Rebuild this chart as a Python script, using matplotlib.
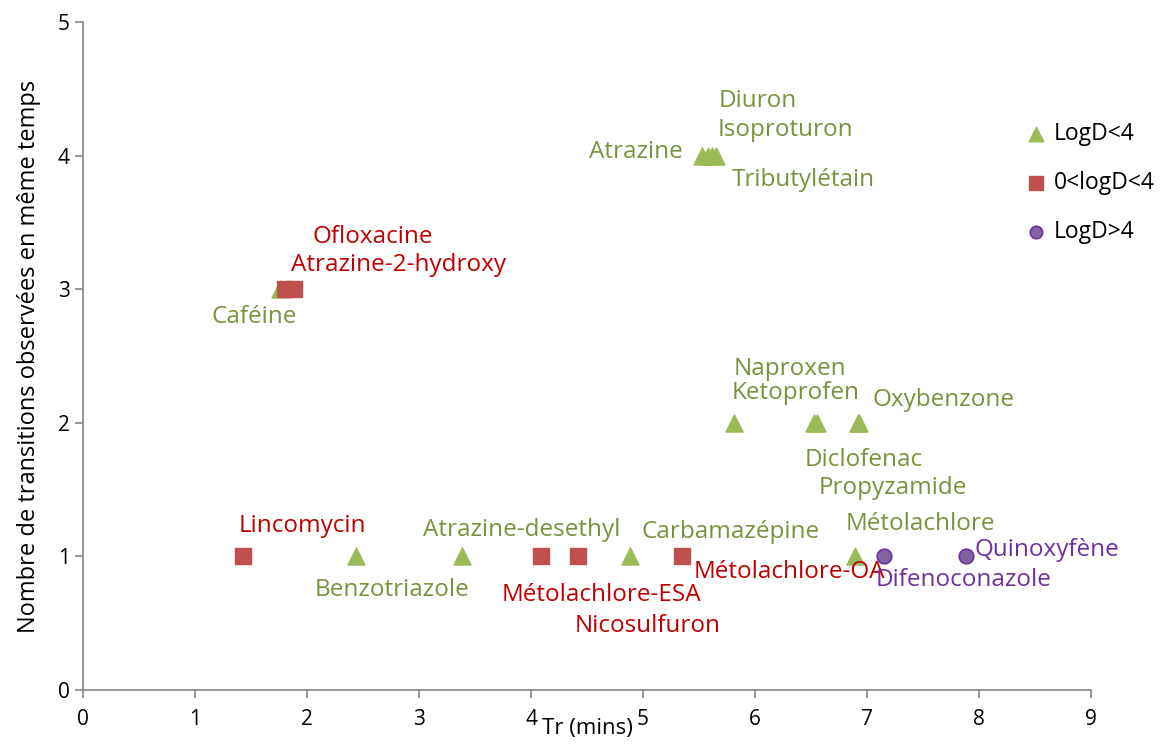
import numpy as np
import matplotlib.pyplot as plt

plt.rcParams['font.family'] = ['Open Sans', 'DejaVu Sans']

# LogD<4 (triangles)
g_names = ['Caféine', 'Atrazine', 'Diuron', 'Isoproturon', 'Tributylétain',
           'Naproxen', 'Ketoprofen', 'Diclofenac', 'Oxybenzone', 'Propyzamide',
           'Benzotriazole', 'Atrazine-desethyl', 'Carbamazépine', 'Métolachlore']
g_tr = [1.76, 5.53, 5.58, 5.62, 5.65, 5.81, 6.53, 6.55, 6.93, 6.92, 2.44, 3.38, 4.88, 6.89]
g_n = [3, 4, 4, 4, 4, 2, 2, 2, 2, 2, 1, 1, 1, 1]
g_lx = [1.53, 4.94, 6.02, 6.27, 6.43, 6.31, 6.36, 6.97, 7.68, 7.23, 2.76, 3.92, 5.78, 7.48]
g_ly = [2.79, 4.03, 4.41, 4.19, 3.82, 2.40, 2.22, 1.72, 2.17, 1.51, 0.75, 1.20, 1.18, 1.24]

# 0<logD<4 (squares)
r_names = ['Lincomycin', 'Ofloxacine', 'Atrazine-2-hydroxy', 'Métolachlore-ESA',
           'Nicosulfuron', 'Métolachlore-OA']
r_tr = [1.43, 1.80, 1.88, 4.09, 4.42, 5.35]
r_n = [1, 3, 3, 1, 1, 1]
r_lx = [1.96, 2.59, 2.82, 4.63, 5.04, 6.31]
r_ly = [1.23, 3.39, 3.18, 0.71, 0.48, 0.88]

# LogD>4 (circles)
p_names = ['Difenoconazole', 'Quinoxyfène']
p_tr = [7.15, 7.88]
p_n = [1, 1]
p_lx = [7.86, 8.61]
p_ly = [0.82, 1.05]

fig = plt.figure(figsize=(11.66, 7.54), dpi=100)
ax = fig.add_axes([0.0712, 0.0849, 0.8645, 0.8859])

ax.scatter(g_tr, g_n, marker='^', s=150, color='#9BBB59', label='LogD<4', zorder=3)
ax.scatter(r_tr, r_n, marker='s', s=130, color='#C0504D', label='0<logD<4', zorder=3)
ax.scatter(p_tr, p_n, marker='o', s=110, color='#8064A2', edgecolors='#7030A0',
           linewidths=1.2, label='LogD>4', zorder=3)

for names, lx, ly, col in [(g_names, g_lx, g_ly, '#77933C'),
                           (r_names, r_lx, r_ly, '#C00000'),
                           (p_names, p_lx, p_ly, '#7030A0')]:
    for n, x, y in zip(names, lx, ly):
        ax.text(x, y, n, color=col, fontsize=17.5, ha='center', va='center')

ax.set_xlim(0, 9)
ax.set_ylim(0, 5)
ax.set_xticks(range(0, 10))
ax.set_yticks(range(0, 6))
for s in ['top', 'right']:
    ax.spines[s].set_visible(False)
for s in ['left', 'bottom']:
    ax.spines[s].set_color('#868686')
    ax.spines[s].set_linewidth(1.2)
ax.tick_params(colors='#868686', labelcolor='black', labelsize=15, length=6, width=1.2)
ax.tick_params(axis='x', pad=8)

ax.set_xlabel('Tr (mins)', fontsize=16, labelpad=-9)
ax.set_ylabel('Nombre de transitions observées en même temps', fontsize=17, labelpad=12)

leg = ax.legend(loc='center left', bbox_to_anchor=(0.879, 0.757), bbox_transform=fig.transFigure,
                frameon=False, fontsize=16.5, handletextpad=0.25, labelspacing=1.1,
                borderaxespad=0, borderpad=0, handlelength=1.0, markerscale=0.85)

plt.savefig('out.png', dpi=100)
